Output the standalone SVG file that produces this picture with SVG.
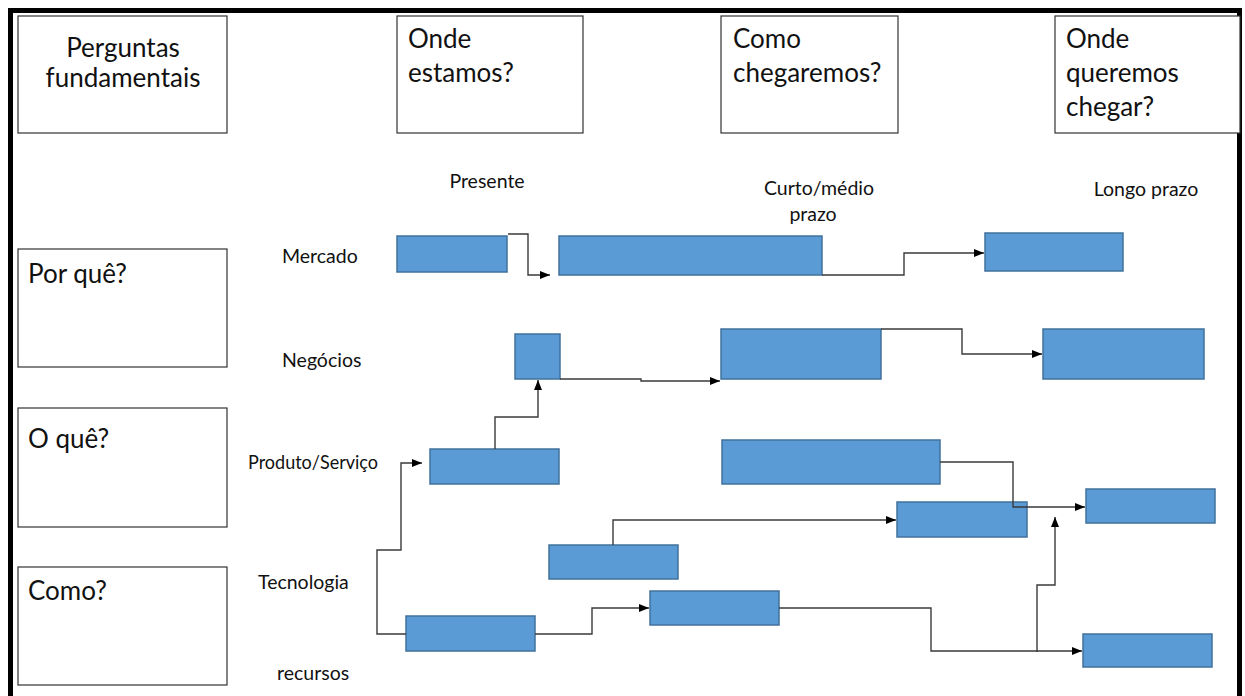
<svg xmlns="http://www.w3.org/2000/svg" width="1245" height="696" viewBox="0 0 1245 696">
  <style>
    text { font-family: Lato, "Liberation Sans", sans-serif; fill: #111; }
    .head { font-size: 26px; }
    .lab { font-size: 19.5px; }
    .frame { fill: #fff; stroke: #333; stroke-width: 1.2; }
    .bar { fill: #5B9BD5; stroke: #41719C; stroke-width: 1.5; }
    .link { fill: none; stroke: #3a3a3a; stroke-width: 1.4; }
  </style>
  <defs>
    <marker id="arrow" markerWidth="10" markerHeight="8" refX="10" refY="4" orient="auto" markerUnits="userSpaceOnUse">
      <path d="M0,0 L10,4 L0,8 Z" fill="#000"/>
    </marker>
  </defs>

  <rect x="0" y="0" width="1245" height="696" fill="#fff"/>
  <!-- outer frame (open at the bottom) -->
  <path d="M10.5,700 V10.5 H1239.5 V700" fill="none" stroke="#000" stroke-width="5"/>

  <!-- header boxes -->
  <g id="q-perguntas">
    <rect class="frame" x="18" y="16" width="209" height="117"/>
    <text class="head" x="123" y="57" text-anchor="middle">Perguntas</text>
    <text class="head" x="123" y="87" text-anchor="middle">fundamentais</text>
  </g>
  <g id="q-onde-estamos">
    <rect class="frame" x="397" y="16" width="186" height="117"/>
    <text class="head" x="408" y="48">Onde</text>
    <text class="head" x="408" y="82">estamos?</text>
  </g>
  <g id="q-como-chegaremos">
    <rect class="frame" x="721" y="16" width="177" height="117"/>
    <text class="head" x="733" y="48">Como</text>
    <text class="head" x="733" y="82">chegaremos?</text>
  </g>
  <g id="q-onde-queremos">
    <rect class="frame" x="1055" y="16" width="185" height="117"/>
    <text class="head" x="1066" y="48">Onde</text>
    <text class="head" x="1066" y="82">queremos</text>
    <text class="head" x="1066" y="116">chegar?</text>
  </g>

  <!-- left question boxes -->
  <g id="q-por-que">
    <rect class="frame" x="18" y="249" width="209" height="118"/>
    <text class="head" x="28" y="283">Por quê?</text>
  </g>
  <g id="q-o-que">
    <rect class="frame" x="18" y="408" width="209" height="119"/>
    <text class="head" x="28" y="448">O quê?</text>
  </g>
  <g id="q-como">
    <rect class="frame" x="18" y="567" width="209" height="118"/>
    <text class="head" x="28" y="600">Como?</text>
  </g>

  <!-- horizon labels -->
  <g id="horizons">
    <text class="lab" x="487" y="188" text-anchor="middle">Presente</text>
    <text class="lab" x="819" y="195" text-anchor="middle">Curto/médio</text>
    <text class="lab" x="813" y="221" text-anchor="middle">prazo</text>
    <text class="lab" x="1146" y="196" text-anchor="middle">Longo prazo</text>
  </g>

  <!-- row labels -->
  <g id="rows">
    <text class="lab" x="282" y="263">Mercado</text>
    <text class="lab" x="282" y="367">Negócios</text>
    <text class="lab" x="248" y="469" textLength="130" lengthAdjust="spacingAndGlyphs">Produto/Serviço</text>
    <text class="lab" x="258" y="589">Tecnologia</text>
    <text class="lab" x="277" y="680">recursos</text>
  </g>

  <!-- bars -->
  <g id="mercado-1"><rect class="bar" x="397" y="236" width="110" height="36"/></g>
  <g id="mercado-2"><rect class="bar" x="559" y="236" width="263" height="39"/></g>
  <g id="mercado-3"><rect class="bar" x="985" y="233" width="138" height="38"/></g>

  <g id="negocios-1"><rect class="bar" x="515" y="334" width="45" height="45"/></g>
  <g id="negocios-2"><rect class="bar" x="721" y="329" width="160" height="50"/></g>
  <g id="negocios-3"><rect class="bar" x="1043" y="329" width="161" height="50"/></g>

  <g id="produto-1"><rect class="bar" x="430" y="449" width="129" height="35"/></g>
  <g id="produto-2"><rect class="bar" x="722" y="440" width="218" height="44"/></g>
  <g id="produto-3"><rect class="bar" x="1086" y="489" width="129" height="34"/></g>

  <g id="tecnologia-1"><rect class="bar" x="549" y="545" width="129" height="34"/></g>
  <g id="tecnologia-2"><rect class="bar" x="897" y="502" width="130" height="35"/></g>

  <g id="recursos-1"><rect class="bar" x="406" y="616" width="129" height="35"/></g>
  <g id="recursos-2"><rect class="bar" x="650" y="591" width="129" height="34"/></g>
  <g id="recursos-3"><rect class="bar" x="1083" y="634" width="129" height="33"/></g>

  <!-- connectors -->
  <g id="connectors">
    <path class="link" marker-end="url(#arrow)" d="M508,234 H528 V275 H550"/>
    <path class="link" marker-end="url(#arrow)" d="M822,275 H904 V253 H984"/>
    <path class="link" marker-end="url(#arrow)" d="M560,379 H641 V381 H720"/>
    <path class="link" marker-end="url(#arrow)" d="M881,329 H962 V354 H1042"/>
    <path class="link" marker-end="url(#arrow)" d="M495,449 V417 H538 V380"/>
    <path class="link" marker-end="url(#arrow)" d="M406,634 H377 V550 H401 V463 H422"/>
    <path class="link" marker-end="url(#arrow)" d="M940,462 H1013 V507 H1085"/>
    <path class="link" marker-end="url(#arrow)" d="M613,545 V520 H896"/>
    <path class="link" marker-end="url(#arrow)" d="M535,634 H592 V608 H649"/>
    <path class="link" marker-end="url(#arrow)" d="M779,608 H931 V651 H1082"/>
    <path class="link" marker-end="url(#arrow)" d="M1037,652 V585 H1055 V517"/>
  </g>
</svg>
